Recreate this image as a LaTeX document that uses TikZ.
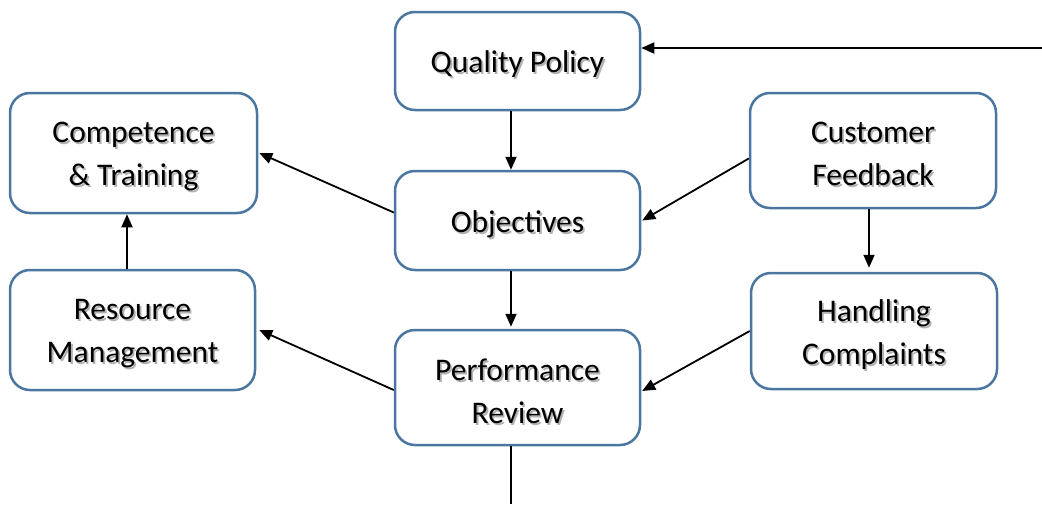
\documentclass[tikz,border=0pt]{standalone}
\usepackage{fontspec}
\setmainfont{Carlito}
\usetikzlibrary{arrows.meta,calc}
\newcommand\shtext[1]{\raisebox{-4.5pt}[\height][\depth]{\rlap{\hspace{1.8pt}\raisebox{-2pt}{\color{black!30}#1}}#1}}
\definecolor{boxblue}{HTML}{4A76A0}
\tikzset{
  box/.style={draw=boxblue, line width=2.5pt, fill=white, rounded corners=20pt,
    inner sep=0pt, align=center, font=\fontsize{31.5}{43}\selectfont},
  arr/.style={line width=1.8pt, -{Triangle[length=13pt,width=11pt]}},
  ln/.style={line width=1.8pt}
}
\begin{document}
\begin{tikzpicture}[x=1pt,y=-1pt]
\useasboundingbox (0,0) rectangle (1042,504);
\node[box, minimum width=245pt, minimum height=98pt] (qp) at (517.5,61) {\shtext{Quality Policy}};
\node[box, minimum width=247pt, minimum height=120pt] (comp) at (133.5,153) {\shtext{Competence}\\\shtext{\& Training}};
\node[box, minimum width=245pt, minimum height=99pt] (obj) at (517.5,220.5) {\shtext{Objectives}};
\node[box, minimum width=246pt, minimum height=115pt] (cf) at (873,150.5) {\shtext{Customer}\\\shtext{Feedback}};
\node[box, minimum width=245pt, minimum height=120pt] (res) at (132.5,330) {\shtext{Resource}\\\shtext{Management}};
\node[box, minimum width=245pt, minimum height=115pt] (pr) at (517.5,387.5) {\shtext{Performance}\\\shtext{Review}};
\node[box, minimum width=246pt, minimum height=116pt] (hc) at (874,331) {\shtext{Handling}\\\shtext{Complaints}};
\coordinate (in) at (1042,48);
\coordinate (out) at (511,504);
\draw[arr] (in) -- ([yshift=13pt]qp.east);
\draw[arr] ([xshift=-6.5pt]qp.south) -- ([xshift=-6.5pt]obj.north);
\draw[arr] ([xshift=-6.5pt]obj.south) -- ([xshift=-6.5pt,yshift=2pt]pr.north);
\draw[arr] ([yshift=8pt]obj.west) -- ([xshift=1pt]comp.east);
\draw[arr] ([yshift=-8pt]cf.west) -- ([xshift=1pt]obj.east);
\draw[arr] ([xshift=-4pt]cf.south) -- ([xshift=-5pt,yshift=4pt]hc.north);
\draw[arr] ([xshift=-5.5pt]res.north) -- ([xshift=-6.5pt]comp.south);
\draw[arr] ([yshift=-2.5pt]pr.west) -- ([xshift=3pt]res.east);
\draw[arr] (hc.west) -- ([xshift=1pt,yshift=-3.5pt]pr.east);
\draw[ln] ([xshift=-6.5pt]pr.south) -- (out);
\end{tikzpicture}
\end{document}
